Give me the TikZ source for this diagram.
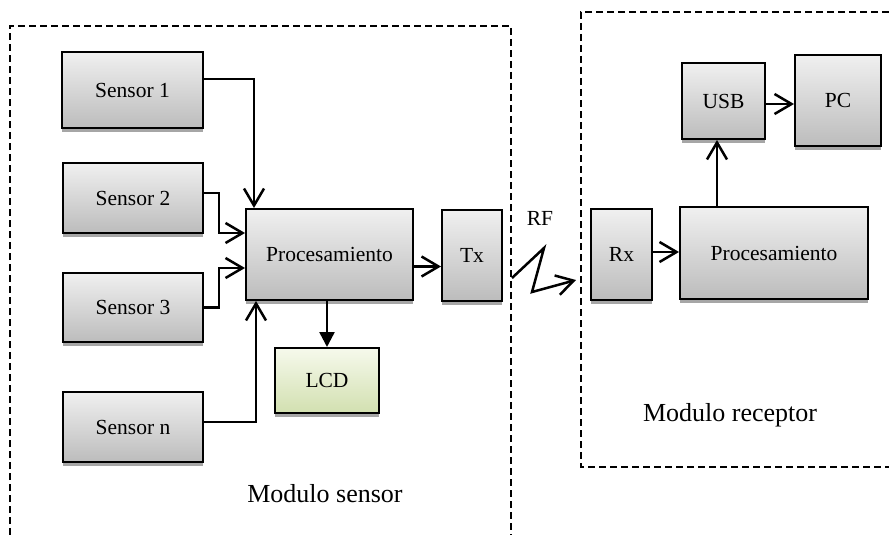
\documentclass[tikz,border=0pt]{standalone}
\usepackage{fontspec}
\setmainfont{Liberation Serif}
\usetikzlibrary{arrows.meta,calc,shadows}
\definecolor{box-top}{RGB}{240,240,240}
\definecolor{box-bottom}{RGB}{188,188,188}
\definecolor{lcd-top}{RGB}{246,249,236}
\definecolor{lcd-bottom}{RGB}{210,224,176}
\tikzset{
    block-box/.style = {draw=black, line width=2pt, rectangle, top color=box-top, bottom color=box-bottom, drop shadow={shadow xshift=0pt, shadow yshift=-4pt, fill=black!35, opacity=1}, inner sep=0pt, font=\fontsize{21.5}{25}\selectfont},
    lcd-box/.style = {block-box, top color=lcd-top, bottom color=lcd-bottom},
    module-frame/.style = {draw=black, line width=2.6pt, dash pattern=on 7pt off 4pt},
    module-title/.style = {font=\fontsize{26}{30}\selectfont},
    link/.style = {draw=black, line width=2.5pt, -{Straight Barb[length=17pt,width=20pt]}},
    link-solid/.style = {draw=black, line width=2.5pt, -{Triangle[length=15pt,width=15pt]}},
}

\begin{document}
\begin{tikzpicture}[x=1pt, y=-1pt]
\useasboundingbox (0,0) rectangle (889,535);
% module frames
\draw[module-frame] (10,535) -- (10,26) -- (511,26) -- (511,535);
\draw[module-frame] (889,12) -- (581,12) -- (581,467) -- (889,467);
\node[module-title] (title-sensor) at (325,494) {Modulo sensor};
\node[module-title] (title-receptor) at (730,415) {Modulo receptor};

% sensor side
\node[block-box, minimum width=141pt, minimum height=76pt] (sensor1) at (132.5,90) {Sensor 1};
\node[block-box, minimum width=140pt, minimum height=70pt] (sensor2) at (133,198) {Sensor 2};
\node[block-box, minimum width=140pt, minimum height=69pt] (sensor3) at (133,307.5) {Sensor 3};
\node[block-box, minimum width=140pt, minimum height=70pt] (sensorn) at (133,427) {Sensor n};
\node[block-box, minimum width=167pt, minimum height=91pt] (proc) at (329.5,254.5) {Procesamiento};
\node[block-box, minimum width=60pt, minimum height=91pt] (tx) at (472,255.5) {Tx};
\node[lcd-box, minimum width=104pt, minimum height=65pt] (lcd) at (327,380.5) {LCD};

\coordinate (in1) at ($(proc.north west)+(9,0)$);
\coordinate (in2) at ($(proc.west)+(0,-21.5)$);
\coordinate (in3) at ($(proc.west)+(0,13.5)$);
\coordinate (inn) at ($(proc.south west)+(11,0)$);
\draw[link] ($(sensor1.east)+(0,-11)$) -| (in1);
\draw[link] ($(sensor2.east)+(0,-5)$) -- ++(15,0) |- (in2);
\draw[link] (sensor3.east) -- ++(15,0) |- (in3);
\draw[link] ($(sensorn.east)+(0,-5)$) -| (inn);
\draw[link] ($(proc.east)+(0,12)$) -- ($(tx.west)+(0,11)$);
\draw[link-solid] (proc.south -| lcd.north) -- (lcd.north);

% radio link
\node[font=\fontsize{21.5}{25}\selectfont] (rf) at (540,218) {RF};
\coordinate (rf-a) at (512,278);
\coordinate (rf-b) at (544,248);
\coordinate (rf-c) at (532,292);
\coordinate (rf-d) at (576,280);
\draw[link, line join=miter] (rf-a) -- (rf-b) -- (rf-c) -- (rf-d);

% receiver side
\node[block-box, minimum width=61pt, minimum height=91pt] (rx) at (621.5,254.5) {Rx};
\node[block-box, minimum width=188pt, minimum height=92pt] (proc2) at (774,253) {Procesamiento};
\node[block-box, minimum width=83pt, minimum height=76pt] (usb) at (723.5,101) {USB};
\node[block-box, minimum width=86pt, minimum height=91pt] (pc) at (838,100.5) {PC};

\coordinate (usb-in) at ($(usb.south)+(-6.5,0)$);
\coordinate (pc-in) at ($(usb.east)+(0,3)$);
\draw[link] ($(rx.east)+(0,-2.5)$) -- ($(proc2.west)+(0,-1)$);
\draw[link] (proc2.north -| usb-in) -- (usb-in);
\draw[link] (pc-in) -- (pc-in -| pc.west);
\end{tikzpicture}
\end{document}
